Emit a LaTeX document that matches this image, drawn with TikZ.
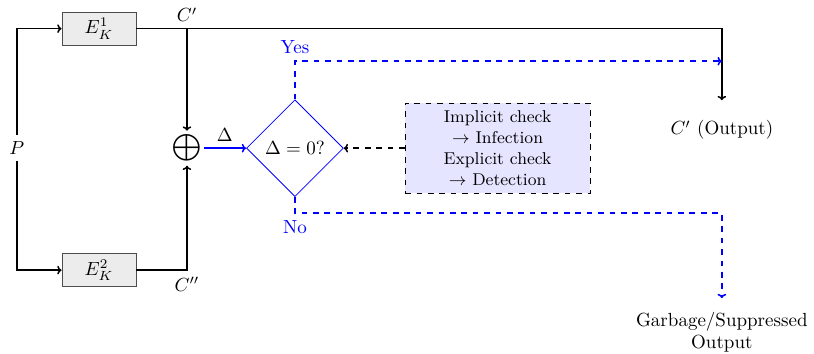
\documentclass[tikz,border=0pt]{standalone}
\usepackage{amsmath}
\usetikzlibrary{calc}
\usetikzlibrary{arrows.meta}
\usetikzlibrary{shapes.geometric}

\begin{document}
\begin{tikzpicture}[scale=1.0,
    enc/.style={draw=black!70, fill=gray!15, minimum width=1.37cm, minimum height=0.61cm, inner sep=0pt},
    decision/.style={diamond, draw=blue, minimum size=1.79cm, inner sep=0pt},
    note/.style={draw, dashed, fill=blue!10, minimum width=3.42cm, minimum height=1.66cm, align=center, font=\small},
    flow/.style={thick, -{To[length=0.8mm, width=1.6mm]}},
    branch/.style={flow, dashed, blue}]
    \useasboundingbox (0, -3.79) rectangle (15.05, 2.74);

    \node (p) at (0.31, 0) {$P$};
    \node[enc] (e1) at (1.83, 2.21) {$E_K^1$};
    \node[enc] (e2) at (1.83, -2.255) {$E_K^2$};
    \node[inner sep=1pt] (xor) at (3.457, 0) {$\displaystyle\bigoplus$};
    \node[decision] (test) at (5.453, 0) {$\Delta = 0?$};
    \node[note] (check) at (9.2, 0) {Implicit check\\ $\rightarrow$ Infection\\ Explicit check\\ $\rightarrow$ Detection};

    \coordinate (outtop) at (13.346, 0.887);
    \coordinate (yesend) at (13.346, 1.608);
    \coordinate (nobend) at (13.346, -1.2);
    \coordinate (badtop) at (13.346, -2.773);
    \node (out) at (13.346, 0.333) {$C'$ (Output)};
    \node[align=center, anchor=north] (bad) at ($(badtop)+(0,-0.13)$) {Garbage/Suppressed\\ Output};

    \draw[flow] (p.north) |- (e1.west);
    \draw[flow] (p.south) |- (e2.west);

    \coordinate (c1) at (xor |- e1);
    \draw[flow] (e1.east) -| (outtop);
    \node[above] (c1lbl) at (c1) {$C'$};
    \draw[flow] (c1) -- (xor.north);
    \draw[flow] (e2.east) -| node[pos=0.5, below] {$C''$} (xor.south);

    \draw[flow, blue] (xor.east) -- node[above, black] {$\Delta$} (test.west);
    \draw[flow, dashed] (check.west) -- (test.east);

    \draw[branch] (test.north) |- node[pos=0.5, above] {Yes} (yesend);
    \draw[branch] (test.south) |- node[pos=0.5, below] {No} (nobend) -- (badtop);

\end{tikzpicture}
\end{document}
